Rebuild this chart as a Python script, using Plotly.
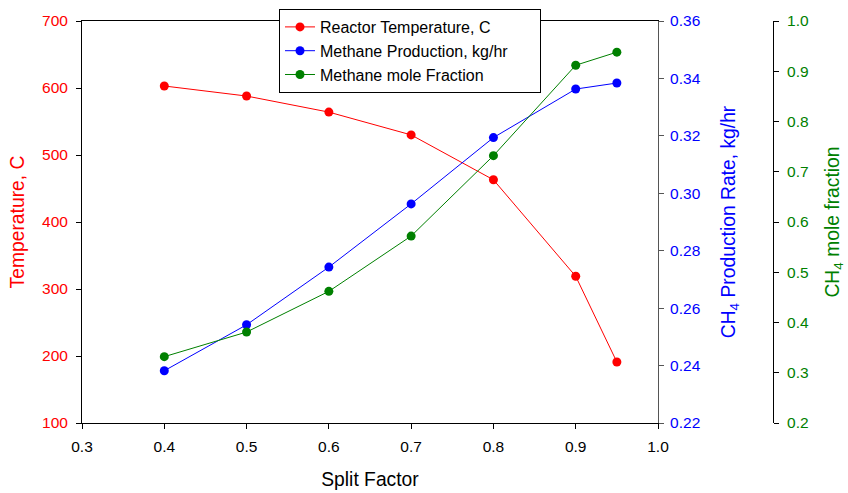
import plotly.graph_objects as go

# ── Data ─────────────────────────────────────────────────────────────────────

split_factor = [0.4, 0.5, 0.6, 0.7, 0.8, 0.9, 0.95]
reactor_temp = [603, 588, 564, 530, 463, 319, 191]
ch4_rate = [0.2382, 0.2542, 0.2743, 0.2963, 0.3194, 0.3363, 0.3384]
ch4_frac = [0.332, 0.381, 0.462, 0.572, 0.732, 0.912, 0.938]

RED = '#ff0000'
BLUE = '#0000ff'
GREEN = '#008000'
FONT = 'Arial, Liberation Sans, sans-serif'
NBSP = '\u00a0'

W, H = 848, 493
L, R, T, B = 82, 75, 21, 70
x_end = (658 - L) / (W - L - R)   # where the blue axis sits inside the plot area

fig = go.Figure()

fig.add_trace(go.Scatter(
    x=split_factor, y=reactor_temp, name='Reactor Temperature, C',
    mode='lines+markers', line=dict(color=RED, width=1),
    marker=dict(color=RED, size=9), yaxis='y',
))
# trailing non-breaking spaces just widen the legend box like the original
fig.add_trace(go.Scatter(
    x=split_factor, y=ch4_rate, name='Methane Production, kg/hr' + NBSP * 6,
    mode='lines+markers', line=dict(color=BLUE, width=1),
    marker=dict(color=BLUE, size=9), yaxis='y2',
))
fig.add_trace(go.Scatter(
    x=split_factor, y=ch4_frac, name='Methane mole Fraction',
    mode='lines+markers', line=dict(color=GREEN, width=1),
    marker=dict(color=GREEN, size=9), yaxis='y3',
))

axis_common = dict(
    showgrid=False, zeroline=False, showline=True, linewidth=1,
    ticks='outside', ticklen=5, tickwidth=1, automargin=False,
)

fig.update_layout(
    width=W, height=H,
    margin=dict(l=L, r=R, t=T, b=B, pad=0, autoexpand=False),
    plot_bgcolor='white', paper_bgcolor='white',
    font=dict(family=FONT, size=15.5, color='black'),
    showlegend=True,
    legend=dict(
        x=(279 - L) / (W - L - R), y=1 + (T - 9) / (H - T - B),
        xanchor='left', yanchor='top',
        bgcolor='white', bordercolor='black', borderwidth=1,
        font=dict(size=16), tracegroupgap=0,
    ),
    xaxis=dict(
        **axis_common, domain=[0, x_end], range=[0.3, 1.0], dtick=0.1,
        tickformat='.1f', linecolor='black', tickcolor='black', mirror=True,
        ticklabelstandoff=4,
        title=dict(text='Split Factor', font=dict(size=19.3), standoff=18),
    ),
    yaxis=dict(
        **axis_common, range=[100, 700], dtick=100,
        linecolor='black', tickcolor='black', ticklabelstandoff=5,
        tickfont=dict(color=RED),
        title=dict(text='Temperature, C', font=dict(size=19.3, color=RED), standoff=12),
    ),
    yaxis2=dict(
        **axis_common, overlaying='y', side='right', anchor='x',
        range=[0.22, 0.36], dtick=0.02, tickformat='.2f',
        linecolor='#555555', tickcolor='#555555', ticklabelstandoff=3,
        tickfont=dict(color=BLUE),
        title=dict(text='CH<sub>4</sub> Production Rate, kg/hr',
                   font=dict(size=19.3, color=BLUE), standoff=21),
    ),
    yaxis3=dict(
        **axis_common, overlaying='y', side='right', anchor='free', position=1.0,
        range=[0.2, 1.0], dtick=0.1, tickformat='.1f',
        linecolor='black', tickcolor='black', ticklabelstandoff=5,
        tickfont=dict(color=GREEN),
        title=dict(text='CH<sub>4</sub> mole fraction',
                   font=dict(size=19.3, color=GREEN), standoff=17),
    ),
)

# drop the browser's default body margin so the figure fills the window exactly
fig.write_html('out.html', config={'displayModeBar': False},
               post_script="document.body.style.margin='0';")
